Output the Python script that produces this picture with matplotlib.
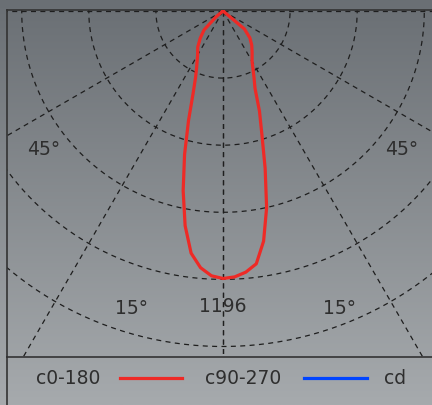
import numpy as np
import matplotlib.pyplot as plt
from matplotlib.lines import Line2D

# intensity readings (cd) every few degrees from nadir
angles = [0, 2.5, 5, 7.5, 10, 12.5, 15, 17.5, 20, 22.5, 25, 30, 35, 40, 45, 50, 55, 60, 70, 80, 90]
c0 = [1196, 1190, 1172, 1140, 1045, 901, 728, 578, 477, 374, 328, 260, 227, 200, 170, 125, 0, 0, 0, 0, 0]
c180 = [1196, 1185, 1152, 1092, 975, 823, 664, 512, 390, 320, 279, 227, 197, 158, 120, 40, 0, 0, 0, 0, 0]
peak = 1196
rings = [300, 600, 900, 1200, 1500]
spokes = [0, 30, 60, 90]
legend_labels = ['c0-180', 'c90-270', 'cd']

W, H = 432, 405
k = 67.1 / 300  # pixels per cd
cx, cy = 223, 11

fig = plt.figure(figsize=(W / 100, H / 100), dpi=100)

# gray gradient background
bg = fig.add_axes([0, 0, 1, 1])
top = np.array([106, 111, 116]) / 255
bot = np.array([166, 170, 173]) / 255
t = np.linspace(0, 1, 256)[:, None]
grad = (top[None, :] * (1 - t) + bot[None, :] * t)[:, None, :]
bg.imshow(grad, aspect='auto', extent=[0, 1, 0, 1])
bg.axis('off')

ax = fig.add_axes([7 / W, 48 / H, (W - 7) / W, 347 / H])
ax.set_facecolor('none')
ax.set_xlim((7 - cx) / k, (W - cx) / k)
ax.set_ylim(-(357 - cy) / k, -(10 - cy) / k)
ax.set_xticks([])
ax.set_yticks([])
for s in ['left', 'top', 'bottom']:
    ax.spines[s].set_color('#333333')
    ax.spines[s].set_linewidth(1.2)
ax.spines['right'].set_visible(False)

dash = (0, (4, 3.5))
phi = np.linspace(0, 2 * np.pi, 400)
for r in rings:
    ax.plot(r * np.cos(phi), r * np.sin(phi), color='#1e1e1e', lw=0.9, ls=dash)
for a in spokes:
    for sgn in (-1, 1):
        th = np.radians(sgn * a)
        ax.plot([0, 3000 * np.sin(th)], [0, -3000 * np.cos(th)], color='#1e1e1e', lw=0.9, ls=dash)

th = np.radians(np.concatenate([-np.array(angles[::-1]), np.array(angles[1:])]))
inten = np.concatenate([np.array(c180[::-1]), np.array(c0[1:])])
ax.plot(inten * np.sin(th), -inten * np.cos(th), color='#ee2a26', lw=2.3, zorder=5,
        solid_joinstyle='round')

tc = '#2e2e2e'
fs = 13.5
ax.text(-800, -621, '45°', color=tc, fontsize=fs, ha='center', va='center')
ax.text(800, -621, '45°', color=tc, fontsize=fs, ha='center', va='center')
ax.text(-411, -1328, '15°', color=tc, fontsize=fs, ha='center', va='center')
ax.text(523, -1328, '15°', color=tc, fontsize=fs, ha='center', va='center')
ax.text(0, -1323, str(peak), color=tc, fontsize=fs, ha='center', va='center')

# legend strip
fig.add_artist(Line2D([7 / W, 7 / W], [0, 48 / H], color='#333333', lw=1.2))
ly = 1 - 378 / H
fig.text(68 / W, ly, legend_labels[0], color=tc, fontsize=fs, ha='center', va='center')
fig.add_artist(Line2D([120 / W, 182 / W], [ly, ly], color='#ee2a26', lw=2.3))
fig.text(243 / W, ly, legend_labels[1], color=tc, fontsize=fs, ha='center', va='center')
fig.add_artist(Line2D([304 / W, 367 / W], [ly, ly], color='#0044ff', lw=2.3))
fig.text(395 / W, ly, legend_labels[2], color=tc, fontsize=fs, ha='center', va='center')

fig.savefig('out.png', dpi=100)
